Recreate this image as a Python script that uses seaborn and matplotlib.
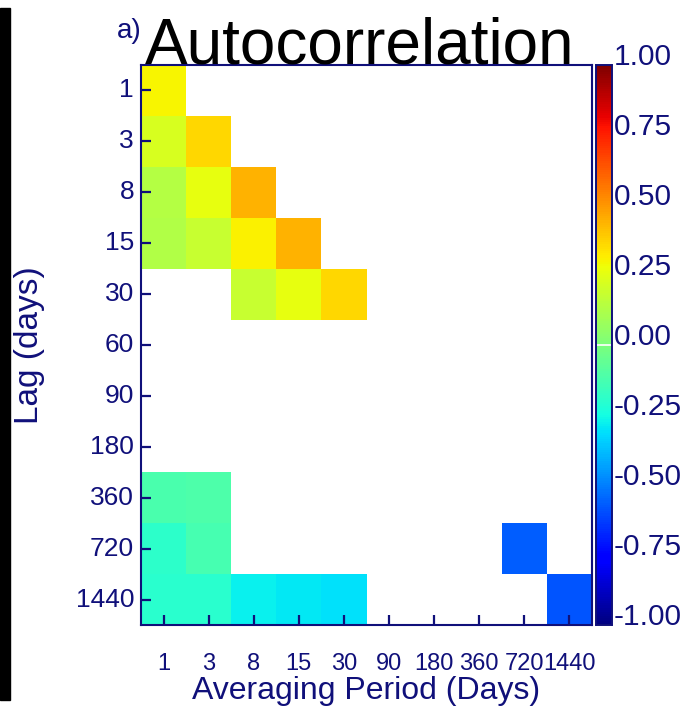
import numpy as np
import pandas as pd
import matplotlib
matplotlib.use("Agg")
import matplotlib.pyplot as plt
from matplotlib.patches import Rectangle
import seaborn as sns

nan = np.nan
periods = ["1", "3", "8", "15", "30", "90", "180", "360", "720", "1440"]
lags = ["1", "3", "8", "15", "30", "60", "90", "180", "360", "720", "1440"]

lag1 = [0.30, nan, nan, nan, nan, nan, nan, nan, nan, nan]
lag3 = [0.22, 0.36, nan, nan, nan, nan, nan, nan, nan, nan]
lag8 = [0.14, 0.26, 0.44, nan, nan, nan, nan, nan, nan, nan]
lag15 = [0.13, 0.18, 0.31, 0.44, nan, nan, nan, nan, nan, nan]
lag30 = [nan, nan, 0.18, 0.26, 0.36, nan, nan, nan, nan, nan]
lag60 = [nan] * 10
lag90 = [nan] * 10
lag180 = [nan] * 10
lag360 = [-0.12, -0.11, nan, nan, nan, nan, nan, nan, nan, nan]
lag720 = [-0.19, -0.13, nan, nan, nan, nan, nan, nan, -0.57, nan]
lag1440 = [-0.20, -0.20, -0.28, -0.29, -0.31, nan, nan, nan, nan, -0.58]

cbar_ticks = [1.0, 0.75, 0.5, 0.25, 0.0, -0.25, -0.5, -0.75, -1.0]

df = pd.DataFrame([lag1, lag3, lag8, lag15, lag30, lag60, lag90, lag180,
                   lag360, lag720, lag1440], index=lags, columns=periods)

sns.set_theme(style="white")
plt.rcParams["font.family"] = ["Liberation Sans", "DejaVu Sans"]
plt.rcParams["xtick.direction"] = "in"
plt.rcParams["ytick.direction"] = "in"
plt.rcParams["xtick.bottom"] = True
plt.rcParams["ytick.left"] = True
navy = "#10107a"

W, H = 690, 708
fig = plt.figure(figsize=(W / 100, H / 100), dpi=100)
ax = fig.add_axes([141 / W, 1 - 625 / H, 451 / W, 560 / H])
cax = fig.add_axes([596 / W, 1 - 625 / H, 16 / W, 560 / H])

sns.heatmap(df, ax=ax, cbar_ax=cax, cmap="jet", vmin=-1, vmax=1,
            cbar_kws={"ticks": cbar_ticks})

for s in ax.spines.values():
    s.set_visible(True)
    s.set_color(navy)
    s.set_linewidth(1.5)
    s.set_zorder(5)

ax.tick_params(axis="y", which="major", direction="in", length=7, width=1.6,
               color=navy, labelcolor=navy, labelsize=19, pad=5, left=True,
               labelrotation=0)
ax.tick_params(axis="x", which="major", direction="in", length=7, width=1.6,
               color=navy, labelcolor=navy, labelsize=17, pad=20, bottom=True,
               labelrotation=0)
for t in ax.yaxis.get_major_ticks() + ax.xaxis.get_major_ticks():
    t.tick1line.set_zorder(6)
ax.set_axisbelow(False)
ax.set_ylabel("Lag (days)", fontsize=24, color=navy, labelpad=22)
ax.set_xlabel("Averaging Period (Days)", fontsize=23, color=navy, labelpad=1)

cax.tick_params(length=0, labelsize=21.5, labelcolor=navy, pad=1)
cax.set_yticklabels([f"{t:.2f}" for t in cbar_ticks])
for lab in cax.get_yticklabels():
    lab.set_va("baseline")
cax.axhline(0.0, color="white", lw=1.2)
for s in cax.spines.values():
    s.set_visible(True)
    s.set_color(navy)
    s.set_linewidth(1.2)

fig.text(145 / W, 1 - 63 / H, "Autocorrelation", fontsize=46, color="black",
         ha="left", va="baseline")
fig.text(117 / W, 1 - 38 / H, "a)", fontsize=20, color=navy,
         ha="left", va="baseline")
fig.patches.append(Rectangle((0, 8 / H), 10 / W, 692 / H, transform=fig.transFigure,
                             color="black", zorder=5))

fig.savefig("out.png", dpi=100)
